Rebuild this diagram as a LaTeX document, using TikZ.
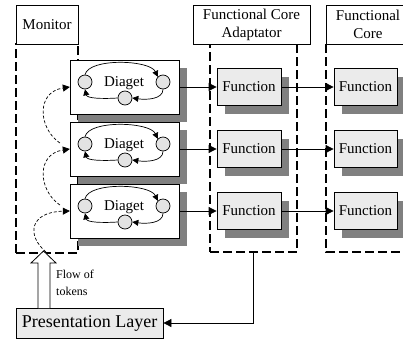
\documentclass[tikz,border=0pt]{standalone}
\usepackage{fontspec}
\setmainfont{Liberation Serif}
\usetikzlibrary{arrows.meta,calc,shadows}
\definecolor{shadcol}{HTML}{808080}
\definecolor{boxfill}{HTML}{EBEBEB}
\definecolor{circfill}{HTML}{E3E3E3}
\begin{document}
\begin{tikzpicture}[x=1pt,y=-1pt,
  hdr/.style={draw, line width=1pt, fill=white, inner sep=0pt, align=center,
    font=\fontsize{15}{18}\selectfont, minimum height=39pt},
  frameline/.style={draw, line width=1.7pt, dash pattern=on 9pt off 4pt},
  shad/.style={drop shadow={shadow xshift=8pt, shadow yshift=-8pt, fill=shadcol, opacity=1}},
  diagbox/.style={draw, line width=0.8pt, fill=white, minimum width=109pt, minimum height=54pt, inner sep=0pt, shad},
  funcbox/.style={draw, line width=0.8pt, fill=boxfill, minimum height=37pt, inner sep=0pt,
    font=\fontsize{15}{16}\selectfont, shad},
  circ/.style={circle, draw, line width=0.7pt, fill=circfill, minimum size=14pt, inner sep=0pt},
  conn/.style={line width=0.8pt, -{Triangle[length=8pt,width=8pt]}},
  smallarr/.style={line width=0.7pt, -{Triangle[length=6pt,width=6pt]}},
  tokarr/.style={line width=0.7pt, dash pattern=on 3pt off 2pt, -{Triangle[length=7pt,width=7pt]}},
  lbl/.style={font=\fontsize{15}{16}\selectfont, inner sep=0pt}
]
\useasboundingbox (0,0) rectangle (403,340);

% frames
\node[frameline, minimum width=62pt, minimum height=209pt, inner sep=0pt] (mon) at (47,148.5) {};
\node[frameline, minimum width=87pt, minimum height=208pt, inner sep=0pt] (fca) at (253.5,148) {};
\draw[line width=1.7pt, dash pattern=on 9pt off 4pt] (326,44) -- (326,252) -- (410,252);
\coordinate (fcl) at (326,44);

% headers
\node[hdr, minimum width=62pt] (hmon) at (47,24.5) {Monitor};
\node[hdr, minimum width=117pt] (hfca) at (251.5,24.5) {Functional Core\\Adaptator};
\node[hdr, minimum width=84pt] (hfc) at (368,24.5) {Functional\\Core};

% rows
\foreach \i/\yc in {1/87,2/149,3/211}{
  \node[diagbox] (d\i) at (124.75,\yc) {};
  \node[lbl] (dt\i) at (124,\yc-4) {Diaget};
  \node[circ] (cl\i) at (85,\yc-5) {};
  \node[circ] (cr\i) at (163,\yc-5) {};
  \node[circ] (cb\i) at (125,\yc+11) {};
  \draw[smallarr] (cl\i.north) .. controls ($(cl\i.north)+(4,-17)$) and ($(cr\i.north west)+(-8,-17)$) .. (cr\i.north west);
  \draw[smallarr] (cr\i.south) .. controls ($(cr\i.south)+(0,10)$) and ($(cb\i.east)+(14,2)$) .. (cb\i.east);
  \draw[smallarr] (cb\i.west) .. controls ($(cb\i.west)+(-16,1)$) and ($(cl\i.south)+(2,9)$) .. (cl\i.south);
  \node[funcbox, minimum width=64pt] (fa\i) at (249,\yc) {Function};
  \node[funcbox, minimum width=63pt] (fb\i) at (365.5,\yc) {Function};
  \draw[conn] (d\i.east) -- (fa\i.west);
  \draw[conn] (fa\i.east) -- (fb\i.west);
}

% presentation layer
\node[draw, line width=0.8pt, fill=boxfill, minimum width=147pt, minimum height=30pt, inner sep=0pt,
  font=\fontsize{18}{20}\selectfont] (pl) at (89.5,323) {Presentation Layer};
\draw[conn] (fca.south) |- (pl.east);

% hollow arrow (flow of tokens)
\coordinate (tok) at (46,252);
\draw[line width=0.8pt, fill=white] (38,308) -- (38,263) -- (31,263) -- (43.5,251) -- (56,263) -- (50,263) -- (50,308);
\node[anchor=west, align=left, inner sep=0pt, font=\fontsize{12}{17}\selectfont] (flow) at (56,283) {Flow of\\tokens};

% token curves
\draw[tokarr] (tok) .. controls (26,235) and (30,212) .. (d3.west);
\draw[tokarr] ($(d3.west)+(-10,-6)$) .. controls (38,190) and (36,154) .. (d2.west);
\draw[tokarr] ($(d2.west)+(-10,-6)$) .. controls (38,128) and (36,92) .. (d1.west);
\end{tikzpicture}
\end{document}
